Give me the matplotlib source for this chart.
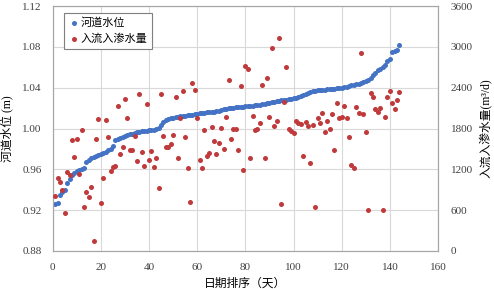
import matplotlib
matplotlib.use("Agg")
import matplotlib.pyplot as plt
from matplotlib.ticker import FormatStrFormatter

plt.rcParams['font.family'] = ['Liberation Serif', 'Noto Sans CJK SC', 'DejaVu Sans']

days = list(range(1, 145))

water_level = [
    0.926, 0.927, 0.935, 0.938, 0.940, 0.947, 0.951, 0.954, 0.956, 0.958,
    0.959, 0.960, 0.961, 0.967, 0.969, 0.971, 0.972, 0.973, 0.974, 0.975,
    0.976, 0.977, 0.979, 0.980, 0.983, 0.989, 0.990, 0.991, 0.992, 0.993,
    0.994, 0.995, 0.995, 0.996, 0.997, 0.997, 0.998, 0.998, 0.998, 0.999,
    0.999, 0.999, 1.000, 1.001, 1.003, 1.006, 1.008, 1.009, 1.010, 1.010,
    1.011, 1.011, 1.012, 1.012, 1.012, 1.013, 1.013, 1.013, 1.014, 1.014,
    1.015, 1.015, 1.015, 1.016, 1.016, 1.016, 1.016, 1.017, 1.017, 1.018,
    1.019, 1.019, 1.020, 1.020, 1.020, 1.021, 1.021, 1.021, 1.021, 1.022,
    1.022, 1.022, 1.022, 1.023, 1.023, 1.023, 1.024, 1.024, 1.025, 1.025,
    1.026, 1.026, 1.027, 1.027, 1.028, 1.028, 1.028, 1.029, 1.029, 1.030,
    1.030, 1.031, 1.032, 1.033, 1.034, 1.035, 1.036, 1.037, 1.037, 1.038,
    1.038, 1.038, 1.038, 1.039, 1.039, 1.039, 1.039, 1.040, 1.040, 1.040,
    1.041, 1.041, 1.042, 1.043, 1.043, 1.044, 1.044, 1.045, 1.046, 1.047,
    1.048, 1.050, 1.052, 1.054, 1.057, 1.058, 1.060, 1.062, 1.066, 1.068,
    1.075, 1.076, 1.077, 1.082,
]

inflow = [
    808, 1077, 1018, 896, 554, 1161, 1117, 1631, 1377, 1646,
    1131, 1778, 642, 862, 798, 945, 143, 1646, 1935, 701,
    1077, 1925, 1671, 1180, 1230, 1249, 2131, 1421, 1524, 2233,
    1950, 1484, 1484, 1694, 1318, 2307, 1455, 1249, 2160, 1333,
    1474, 1230, 1367, 930, 2307, 1690, 1524, 1524, 1572, 1700,
    2258, 1367, 1954, 2347, 1680, 1215, 724, 2464, 2366, 1954,
    1333, 1215, 1778, 1396, 1435, 1827, 1621, 1425, 1582, 1803,
    1499, 1964, 2513, 1650, 1788, 1788, 1479, 2420, 1190, 2723,
    2674, 1371, 1979, 1778, 1797, 1876, 2435, 1371, 2538, 1964,
    2978, 1837, 1915, 3130, 691, 2194, 2708, 1797, 1763, 1729,
    1915, 1885, 1866, 1396, 1900, 1837, 1289, 1856, 651, 1950,
    1885, 2023, 1753, 1910, 1797, 2018, 1489, 2170, 1959, 1974,
    2131, 1959, 1671, 1264, 1220, 2116, 2028, 2905, 2018, 1744,
    602, 2317, 2267, 2082, 2047, 2101, 602, 1964, 2258, 2356,
    2180, 2082, 2223, 2332,
]

x_ticks = [0, 20, 40, 60, 80, 100, 120, 140, 160]
left_ticks = [0.88, 0.92, 0.96, 1.00, 1.04, 1.08, 1.12]
right_ticks = [0, 600, 1200, 1800, 2400, 3000, 3600]

label_level = "河道水位"
label_inflow = "入流入渗水量"

blue = '#4472C4'
red = '#C0393B'
grid_c = '#D9D9D9'
frame_c = '#A6A6A6'

fig = plt.figure(figsize=(4.94, 2.89), dpi=100)
ax = fig.add_axes([0.1067, 0.1315, 0.78, 0.8475])
ax2 = ax.twinx()

ax.set_xlim(0, 160)
ax.set_ylim(0.88, 1.12)
ax2.set_ylim(0, 3600)
ax.set_xticks(x_ticks)
ax.set_yticks(left_ticks)
ax2.set_yticks(right_ticks)
ax.yaxis.set_major_formatter(FormatStrFormatter('%.2f'))

ax.grid(True, color=grid_c, linewidth=0.8)
ax.set_axisbelow(True)

h1 = ax.scatter(days, water_level, s=13, color=blue, linewidths=0, zorder=3, label=label_level)
h2 = ax2.scatter(days, inflow, s=13, color=red, linewidths=0, zorder=3, label=label_inflow)

for a in (ax, ax2):
    for sp in a.spines.values():
        sp.set_color(frame_c)
        sp.set_linewidth(0.8)
    a.tick_params(length=0, labelsize=8, colors='#404040')
ax.tick_params(axis='y', pad=8)
ax.tick_params(axis='x', pad=9)
ax2.tick_params(axis='y', pad=9)

ax.set_xlabel("日期排序（天）", fontsize=8.5, labelpad=4)
ax.set_ylabel("河道水位 (m)", fontsize=8.5, labelpad=6)
ax2.set_ylabel("入流入渗水量(m³/d)", fontsize=8.5, labelpad=5)

leg = ax2.legend(handles=[h1, h2], loc='upper left', bbox_to_anchor=(0.02, 0.985),
                 fontsize=8, frameon=True, fancybox=False, framealpha=1,
                 edgecolor='#7F7F7F', handletextpad=0.1, borderpad=0.4,
                 labelspacing=0.5, handlelength=1.0, borderaxespad=0.3)
leg.get_frame().set_linewidth(0.8)

fig.savefig('out.png', dpi=100)
